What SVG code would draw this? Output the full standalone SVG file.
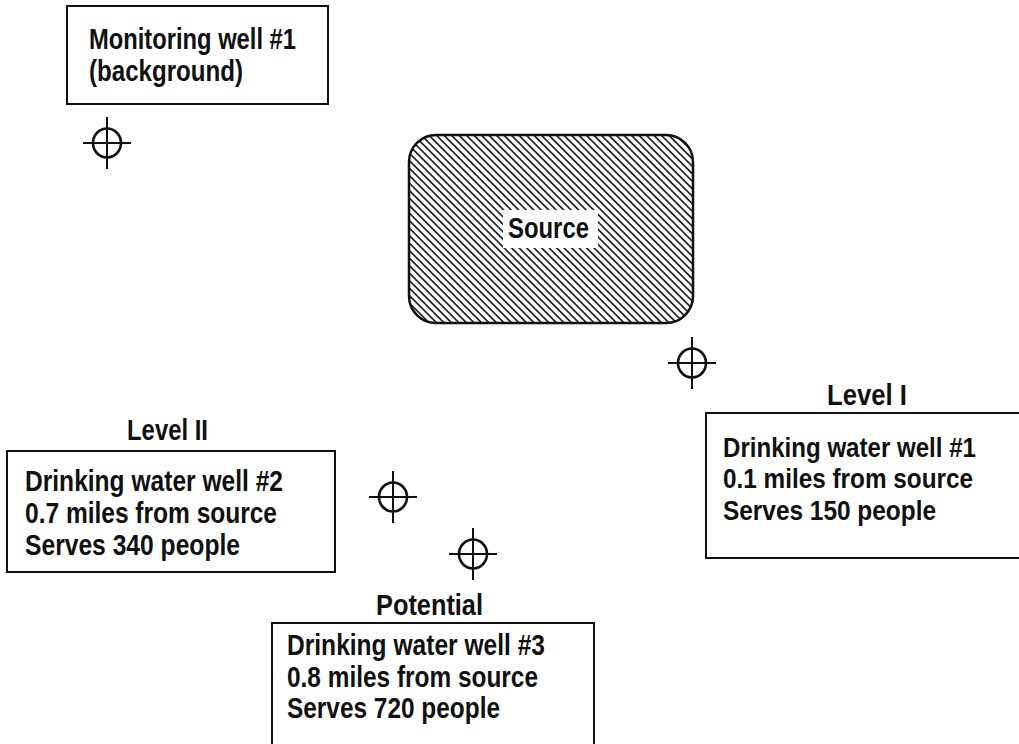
<svg xmlns="http://www.w3.org/2000/svg" width="1019" height="744" viewBox="0 0 1019 744">
  <style>
    .box { fill: #ffffff; stroke: #111111; stroke-width: 2; }
    .t { font-family: "Liberation Sans", Arial, sans-serif; font-weight: bold; font-size: 30px; fill: #111111; }
    .t28 { font-size: 28px; }
    .lbl { font-family: "Liberation Sans", Arial, sans-serif; font-weight: bold; font-size: 30px; fill: #111111; }
    .xc { fill: none; stroke: #111111; stroke-width: 2.6; }
    .xl { fill: none; stroke: #111111; stroke-width: 2; }
  </style>
  <defs>
    <pattern id="hatch" patternUnits="userSpaceOnUse" width="5.3" height="10" patternTransform="rotate(-45)">
      <line x1="1" y1="0" x2="1" y2="10" stroke="#111111" stroke-width="1.6"/>
    </pattern>
    <g id="crosshair">
      <ellipse cx="0" cy="0" rx="14" ry="14.5" class="xc"/>
      <line x1="-24" y1="0" x2="24" y2="0" class="xl"/>
      <line x1="0" y1="-26" x2="0" y2="26" class="xl"/>
    </g>
  </defs>
  <rect width="1019" height="744" fill="#ffffff"/>

  <g id="connectors"></g>

  <g id="monitoring-well">
    <rect class="box" x="67" y="6" width="261" height="98"/>
    <text class="t" x="89" y="49" textLength="207" lengthAdjust="spacingAndGlyphs">Monitoring well #1</text>
    <text class="t" x="89" y="81" textLength="154" lengthAdjust="spacingAndGlyphs">(background)</text>
    <use href="#crosshair" x="107" y="143"/>
  </g>

  <g id="source">
    <rect x="409" y="135" width="284" height="188" rx="27" ry="27" fill="url(#hatch)" stroke="#111111" stroke-width="2.5"/>
    <rect x="503" y="210" width="95" height="38" fill="#ffffff"/>
    <text class="lbl" x="508" y="238" textLength="81" lengthAdjust="spacingAndGlyphs">Source</text>
  </g>

  <g id="well-1">
    <use href="#crosshair" x="692" y="363"/>
    <text class="lbl" x="827" y="405" textLength="80" lengthAdjust="spacingAndGlyphs">Level I</text>
    <path class="box" d="M1019 413 H706 V558 H1019"/>
    <text class="t t28" x="723" y="457" textLength="253" lengthAdjust="spacingAndGlyphs">Drinking water well #1</text>
    <text class="t t28" x="723" y="488" textLength="250" lengthAdjust="spacingAndGlyphs">0.1 miles from source</text>
    <text class="t t28" x="723" y="520" textLength="213" lengthAdjust="spacingAndGlyphs">Serves 150 people</text>
  </g>

  <g id="well-2">
    <use href="#crosshair" x="393" y="497"/>
    <text class="lbl" x="127" y="440" textLength="81" lengthAdjust="spacingAndGlyphs">Level II</text>
    <rect class="box" x="7" y="451" width="328" height="121"/>
    <text class="t" x="25" y="491" textLength="258" lengthAdjust="spacingAndGlyphs">Drinking water well #2</text>
    <text class="t" x="25" y="523" textLength="252" lengthAdjust="spacingAndGlyphs">0.7 miles from source</text>
    <text class="t" x="25" y="555" textLength="215" lengthAdjust="spacingAndGlyphs">Serves 340 people</text>
  </g>

  <g id="well-3">
    <use href="#crosshair" x="473" y="554"/>
    <text class="lbl" x="376" y="615" textLength="107" lengthAdjust="spacingAndGlyphs">Potential</text>
    <path class="box" d="M272 744 V623 H594 V744"/>
    <text class="t" x="287" y="655" textLength="258" lengthAdjust="spacingAndGlyphs">Drinking water well #3</text>
    <text class="t" x="287" y="687" textLength="251" lengthAdjust="spacingAndGlyphs">0.8 miles from source</text>
    <text class="t" x="287" y="718" textLength="213" lengthAdjust="spacingAndGlyphs">Serves 720 people</text>
  </g>
</svg>
